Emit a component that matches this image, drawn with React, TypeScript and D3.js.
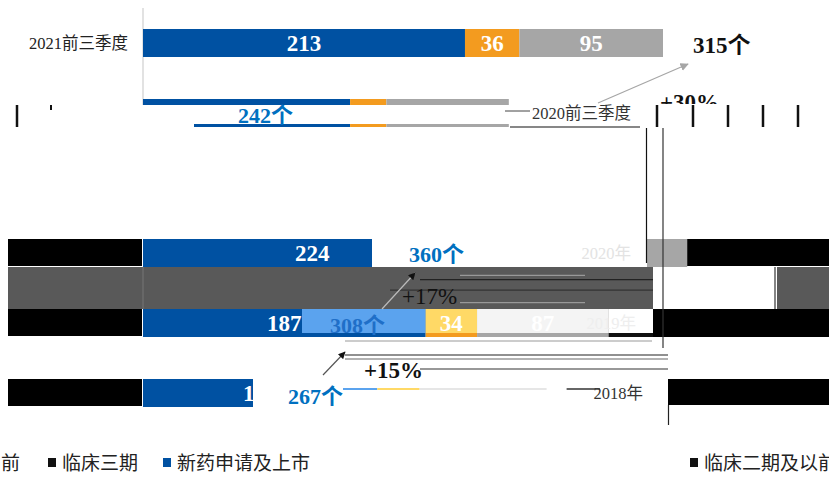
import React from "react";
import * as d3 from "d3";

// ---- data ----
const categories = ["2021前三季度", "2020前三季度", "2020年", "2019年", "2018年"];
const slots = ["2021前三季度", "2020前三季度", "gap", "2020年", "2019年", "2018年"];
const seriesNames = ["新药申请及上市", "临床三期", "临床二期及以前"];
const ndaValues = [213, 137, 224, 187, 155];
const phase3Values = [36, 24, 33, 34, 28];
const phase2Values = [95, 81, 103, 87, 84];
const totalLabels = ["315个", "242个", "360个", "308个", "267个"];
const growthLabels = ["+30%", "+17%", "+15%"];
const legendNames = ["临床二期及以前", "临床三期", "新药申请及上市"];

const W = 829;
const H = 478;
const COLORS: Record<string, string> = {
  "新药申请及上市": "#0051A2",
  "临床三期": "#F39B1F",
  "临床二期及以前": "#A6A6A6",
};
const NUM_FONT = "'Liberation Serif', 'Times New Roman', serif";
const CJK_FONT = "'Liberation Serif', 'Noto Sans CJK SC', serif";

export default function App() {
  const rows = categories.map((c, i) => ({
    cat: c,
    "新药申请及上市": ndaValues[i],
    "临床三期": phase3Values[i],
    "临床二期及以前": phase2Values[i],
  }));
  const stacked = d3.stack<any>().keys(seriesNames)(rows);
  const x = d3.scaleLinear().domain([0, 344]).range([143, 663]);
  const yc = d3.scalePoint<string>().domain(slots).range([43, 393]);
  const bh = 28;
  const top = (c: string) => (yc(c) as number) - bh / 2;

  const x0 = x(0);
  const r2020q = top("2020前三季度");
  const r2020 = top("2020年");
  const r2019 = top("2019年");
  const r2018 = top("2018年");
  const band = d3.scaleLinear().domain([0, 1]).range([r2020 + bh, r2019]);

  const e19a = x(ndaValues[3]);
  const e19b = x(ndaValues[3] + phase3Values[3]);
  const e19c = x(ndaValues[3] + phase3Values[3] + phase2Values[3]);
  const e18a = x(ndaValues[4]);
  const e18b = x(ndaValues[4] + phase3Values[4]);
  const e18c = x(ndaValues[4] + phase3Values[4] + phase2Values[4]);

  // visible extent of value labels per row (the rest of each row is washed out in the reference)
  const labelClipRight = [W, x0, 372, W, 253];

  return (
    <svg
      width={W}
      height={H}
      viewBox={`0 0 ${W} ${H}`}
      style={{ position: "absolute", left: 0, top: 0, background: "#fff" }}
    >
      <defs>
        <marker id="headGray" viewBox="0 0 10 10" refX="9" refY="5" markerWidth="7" markerHeight="7" orient="auto">
          <path d="M0,0 L10,5 L0,10 z" fill="#A6A6A6" />
        </marker>
        <marker id="headBlack" viewBox="0 0 10 10" refX="9" refY="5" markerWidth="6" markerHeight="6" orient="auto">
          <path d="M0,0 L10,5 L0,10 z" fill="#111" />
        </marker>
        {categories.map((c, i) => (
          <clipPath id={`lc${i}`} key={c}>
            <rect x={x0} y={top(c)} width={Math.max(0, labelClipRight[i] - x0)} height={bh} />
          </clipPath>
        ))}
      </defs>
      <rect x={0} y={0} width={W} height={H} fill="#fff" />

      {/* axis line */}
      <line x1={x0} x2={x0} y1={8} y2={r2020q + 6} stroke="#D9D9D9" strokeWidth={1.5} />

      {/* stacked bars */}
      {stacked.map((s) => (
        <g key={s.key} fill={COLORS[s.key]}>
          {s.map((d: any, i: number) => (
            <rect
              key={i}
              x={x(d[0])}
              y={top(categories[i])}
              width={x(d[1]) - x(d[0])}
              height={bh}
            />
          ))}
        </g>
      ))}

      {/* ---- rendering artifacts present in the reference ---- */}
      <rect x={x0} y={r2020q + 6} width={525 - x0} height={bh - 9} fill="#fff" />
      <rect x={x0} y={r2020q + 24} width={194 - x0} height={5} fill="#fff" />
      <line x1={510} x2={647} y1={r2020q + 28} y2={r2020q + 28} stroke="#111" strokeWidth={1.2} />
      <rect x={372} y={r2020} width={647 - 372} height={bh} fill="#fff" />
      <rect x={302} y={r2019} width={e19a - 302} height={bh - 4} fill="#5BA3EE" />
      <rect x={e19a} y={r2019} width={e19b - e19a} height={bh - 4} fill="#FFD966" />
      <rect x={e19b} y={r2019} width={e19c - e19b} height={bh - 4} fill="#F4F4F4" />
      <rect x={e19c} y={r2019 + 24} width={653 - e19c} height={4} fill="#111" />
      <rect x={253} y={r2018} width={575 - 253} height={bh + 1} fill="#fff" />
      <line x1={343} x2={e18a} y1={r2018 + 10} y2={r2018 + 10} stroke="#5BA3EE" strokeWidth={2} />
      <line x1={e18a} x2={e18b} y1={r2018 + 10} y2={r2018 + 10} stroke="#FFD966" strokeWidth={2} />
      <line x1={e18b} x2={e18c} y1={r2018 + 10} y2={r2018 + 10} stroke="#E6E6E6" strokeWidth={2} />
      <line x1={e18c + 20} x2={600} y1={r2018 + 10} y2={r2018 + 10} stroke="#333" strokeWidth={1.5} />
      <rect x={8} y={band(0)} width={653 - 8} height={band(1) - band(0)} fill="#595959" />
      <rect x={777} y={band(0)} width={W - 777} height={band(1) - band(0)} fill="#595959" />
      <line x1={x0} x2={x0} y1={band(0)} y2={band(1)} stroke="#777" strokeWidth={1} />
      <line x1={420} x2={653} y1={band(0.3)} y2={band(0.3)} stroke="#222" strokeWidth={1.2} />
      <line x1={390} x2={653} y1={band(0.55)} y2={band(0.55)} stroke="#333" strokeWidth={1.2} />
      <line x1={460} x2={585} y1={band(0.2)} y2={band(0.2)} stroke="#999" strokeWidth={1.2} />
      <line x1={460} x2={585} y1={band(0.85)} y2={band(0.85)} stroke="#999" strokeWidth={1.2} />
      {["2020年", "2019年", "2018年"].map((c) => (
        <rect key={c} x={8} y={top(c)} width={x0 - 8 - 1} height={bh - 1} fill="#000" />
      ))}
      <rect x={x(360)} y={r2020} width={W - x(360)} height={bh - 1} fill="#000" />
      <rect x={653} y={r2019} width={W - 653} height={bh} fill="#000" />
      <rect x={668} y={r2018} width={W - 668} height={bh - 2} fill="#000" />
      <line x1={646.5} x2={646.5} y1={r2020q + 28} y2={r2020 + 24} stroke="#111" strokeWidth={1.2} />
      <line x1={663} x2={663} y1={r2020q + 10} y2={348} stroke="#333" strokeWidth={1.2} />
      <line x1={775} x2={775} y1={band(0)} y2={band(1)} stroke="#333" strokeWidth={1.2} />
      <line x1={668.5} x2={668.5} y1={r2018 + bh - 2} y2={425} stroke="#222" strokeWidth={1.2} />
      <line x1={345} x2={652} y1={341} y2={341} stroke="#999" strokeWidth={1.2} />
      <line x1={345} x2={668} y1={355} y2={355} stroke="#222" strokeWidth={1.2} />
      <line x1={345} x2={668} y1={359} y2={359} stroke="#666" strokeWidth={1.2} />
      <line x1={420} x2={668} y1={369} y2={369} stroke="#333" strokeWidth={1.2} />

      {/* segment value labels */}
      {stacked.map((s) =>
        s.map((d: any, i: number) => {
          const cx = (x(d[0]) + x(d[1])) / 2;
          if (cx - 17 > labelClipRight[i]) return null;
          return (
            <text
              key={s.key + i}
              x={cx}
              y={yc(categories[i]) as number}
              dy="0.35em"
              textAnchor="middle"
              fill="#fff"
              fontFamily={NUM_FONT}
              fontWeight="bold"
              fontSize={23}
              clipPath={`url(#lc${i})`}
            >
              {d[1] - d[0]}
            </text>
          );
        })
      )}

      {/* growth annotations */}
      <line x1={598} y1={103} x2={688} y2={64} stroke="#A6A6A6" strokeWidth={1.2} markerEnd="url(#headGray)" />
      <text x={660} y={110} fill="#111" fontFamily={NUM_FONT} fontWeight="bold" fontSize={23}>{growthLabels[0]}</text>
      <rect x={640} y={104} width={W - 640} height={24} fill="#fff" />
      {[17, 657, 693, 728, 763, 798].map((tx) => (
        <line key={tx} x1={tx} x2={tx} y1={105} y2={127} stroke="#111" strokeWidth={2.5} />
      ))}
      <line x1={51} x2={51} y1={105} y2={110} stroke="#111" strokeWidth={2} />

      <line x1={382} y1={309} x2={415} y2={273} stroke="#bbb" strokeWidth={1.2} markerEnd="url(#headBlack)" />
      <text x={402} y={304} fill="#111" fontFamily={NUM_FONT} fontSize={23}>{growthLabels[1]}</text>

      <line x1={323} y1={375} x2={345} y2={352} stroke="#555" strokeWidth={1.2} markerEnd="url(#headBlack)" />
      <text x={364} y={378} fill="#111" fontFamily={NUM_FONT} fontWeight="bold" fontSize={23}>{growthLabels[2]}</text>

      {/* totals */}
      <text x={693} y={53} fill="#111" fontFamily={CJK_FONT} fontWeight="bold" fontSize={23}>{totalLabels[0]}</text>
      <text x={238} y={123} fill="#0070C0" fontFamily={CJK_FONT} fontWeight="bold" fontSize={22}>{totalLabels[1]}</text>
      <text x={409} y={262} fill="#0070C0" fontFamily={CJK_FONT} fontWeight="bold" fontSize={22}>{totalLabels[2]}</text>
      <text x={330} y={333} fill="#1F6FC8" fontFamily={CJK_FONT} fontWeight="bold" fontSize={22}>{totalLabels[3]}</text>
      <text x={288} y={404} fill="#0070C0" fontFamily={CJK_FONT} fontWeight="bold" fontSize={22}>{totalLabels[4]}</text>

      {/* category labels */}
      <text x={128} y={(yc(categories[0]) as number) + 6} textAnchor="end" fill="#222" fontFamily={CJK_FONT} fontSize={16.5}>{categories[0]}</text>
      <text x={631} y={(yc(categories[1]) as number) + 6} textAnchor="end" fill="#333" fontFamily={CJK_FONT} fontSize={16.5}>{categories[1]}</text>
      <text x={631} y={(yc(categories[2]) as number) + 6} textAnchor="end" fill="#E3E3E3" fontFamily={CJK_FONT} fontSize={16.5}>{categories[2]}</text>
      <text x={636} y={(yc(categories[3]) as number) + 6} textAnchor="end" fill="#EEE" fontFamily={CJK_FONT} fontSize={16.5}>{categories[3]}</text>
      <text x={643} y={(yc(categories[4]) as number) + 6} textAnchor="end" fill="#333" fontFamily={CJK_FONT} fontSize={16.5}>{categories[4]}</text>
      <line x1={505} x2={530} y1={111} y2={111} stroke="#444" strokeWidth={1} />

      {/* legend */}
      {[
        { name: legendNames[1], x: 48, color: "#111" },
        { name: legendNames[2], x: 163, color: COLORS["新药申请及上市"] },
        { name: legendNames[0], x: 690, color: "#111" },
      ].map((l) => (
        <g key={l.name}>
          <rect x={l.x} y={458} width={8} height={9} fill={l.color} />
          <text x={l.x + 14} y={470} fill="#222" fontFamily={CJK_FONT} fontSize={19}>{l.name}</text>
        </g>
      ))}
      <text x={1} y={470} fill="#222" fontFamily={CJK_FONT} fontSize={19}>前</text>
    </svg>
  );
}
